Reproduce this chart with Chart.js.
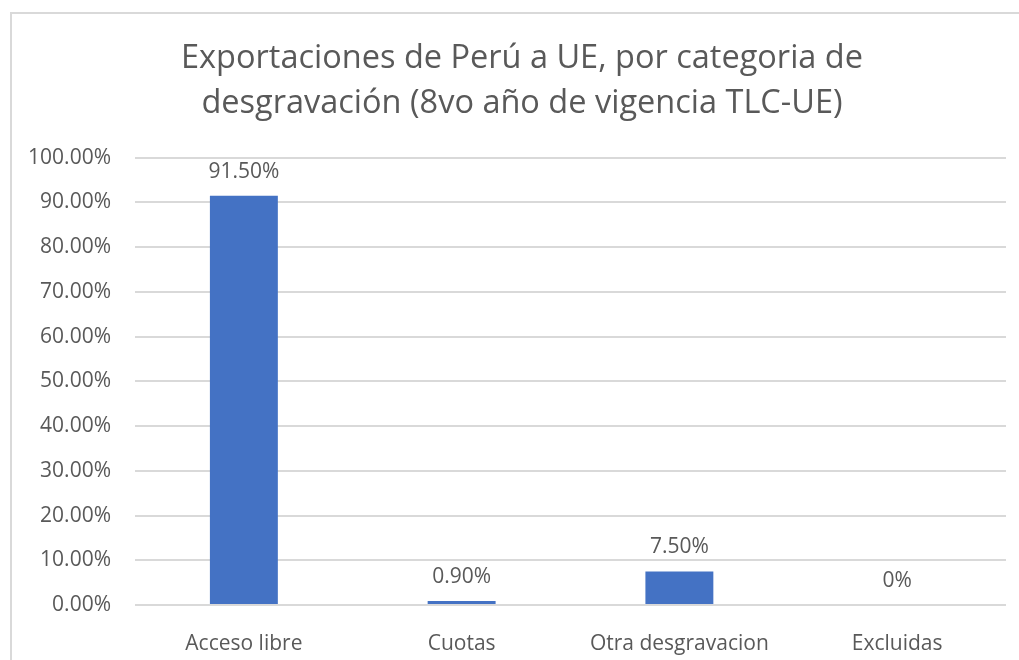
<!DOCTYPE html>
<html>
<head>
<meta charset="utf-8">
<script src="https://cdn.jsdelivr.net/npm/chart.js@4"></script>
<style>
    body { margin: 0; background: #ffffff; overflow: hidden; }
    #frame {
        position: absolute; left: 10px; top: 12px;
        width: 1100px; height: 800px;
        border: 2px solid #d9d9d9; box-sizing: border-box;
    }
    /* wider than the window: the original frame runs past the right edge */
    #wrap { position: absolute; left: 0; top: 0; width: 1044px; height: 660px; }
</style>
</head>
<body>
<div id="frame"></div>
<div id="wrap"><canvas id="bar-chart"></canvas></div>
<script>
const categories = ["Acceso libre", "Cuotas", "Otra desgravacion", "Excluidas"];
const shares = [91.5, 0.9, 7.5, 0];
const title_lines = [
    "Exportaciones de Perú a UE, por categoria de",
    "desgravación (8vo año de vigencia TLC-UE)"
];

const text_color = "#595959";
const font_family = "'Open Sans', sans-serif";

function fmt_pct(v) {
    return v === 0 ? "0%" : v.toFixed(2) + "%";
}

// draws the value labels above each bar
const value_labels = {
    id: "value_labels",
    afterDatasetsDraw(chart) {
        const ctx = chart.ctx;
        const meta = chart.getDatasetMeta(0);
        ctx.save();
        ctx.fillStyle = text_color;
        ctx.font = "21px " + font_family;
        ctx.textAlign = "center";
        ctx.textBaseline = "middle";
        meta.data.forEach((bar, i) => {
            ctx.fillText(fmt_pct(shares[i]), bar.x, bar.y - 24);
        });
        ctx.restore();
    }
};

const chart_el = document.querySelector("#bar-chart");
if (chart_el === null) {
    throw Error("failed finding #bar-chart");
}

new Chart(chart_el, {
    type: "bar",
    data: {
        labels: categories,
        datasets: [{
            data: shares,
            backgroundColor: "#4472c4",
            barPercentage: 0.312,
            categoryPercentage: 1
        }]
    },
    plugins: [value_labels],
    options: {
        responsive: true,
        maintainAspectRatio: false,
        animation: false,
        layout: { padding: 0 },
        plugins: {
            legend: { display: false },
            tooltip: { enabled: false },
            title: {
                display: true,
                text: title_lines,
                color: text_color,
                font: { family: font_family, size: 32.5, weight: "normal", lineHeight: 1.38 },
                padding: { top: 36, bottom: 32 }
            }
        },
        scales: {
            x: {
                grid: { display: false },
                border: { display: false },
                ticks: {
                    color: text_color,
                    font: { family: font_family, size: 21 },
                    padding: 18,
                    maxRotation: 0
                },
                afterFit(scale) { scale.height = 55; }
            },
            y: {
                min: 0,
                max: 100,
                grid: { color: "#d9d9d9", lineWidth: 2, drawTicks: false },
                border: { display: false },
                ticks: {
                    stepSize: 10,
                    color: text_color,
                    font: { family: font_family, size: 21 },
                    padding: 24,
                    callback: (v) => v.toFixed(2) + "%"
                },
                afterFit(scale) { scale.width = 135; }
            },
            // empty right axis, only reserves the blank margin on the right
            y_right: {
                position: "right",
                min: 0,
                max: 100,
                grid: { display: false },
                border: { display: false },
                ticks: { display: false },
                afterFit(scale) { scale.width = 38; }
            }
        }
    }
});
</script>
</body>
</html>
